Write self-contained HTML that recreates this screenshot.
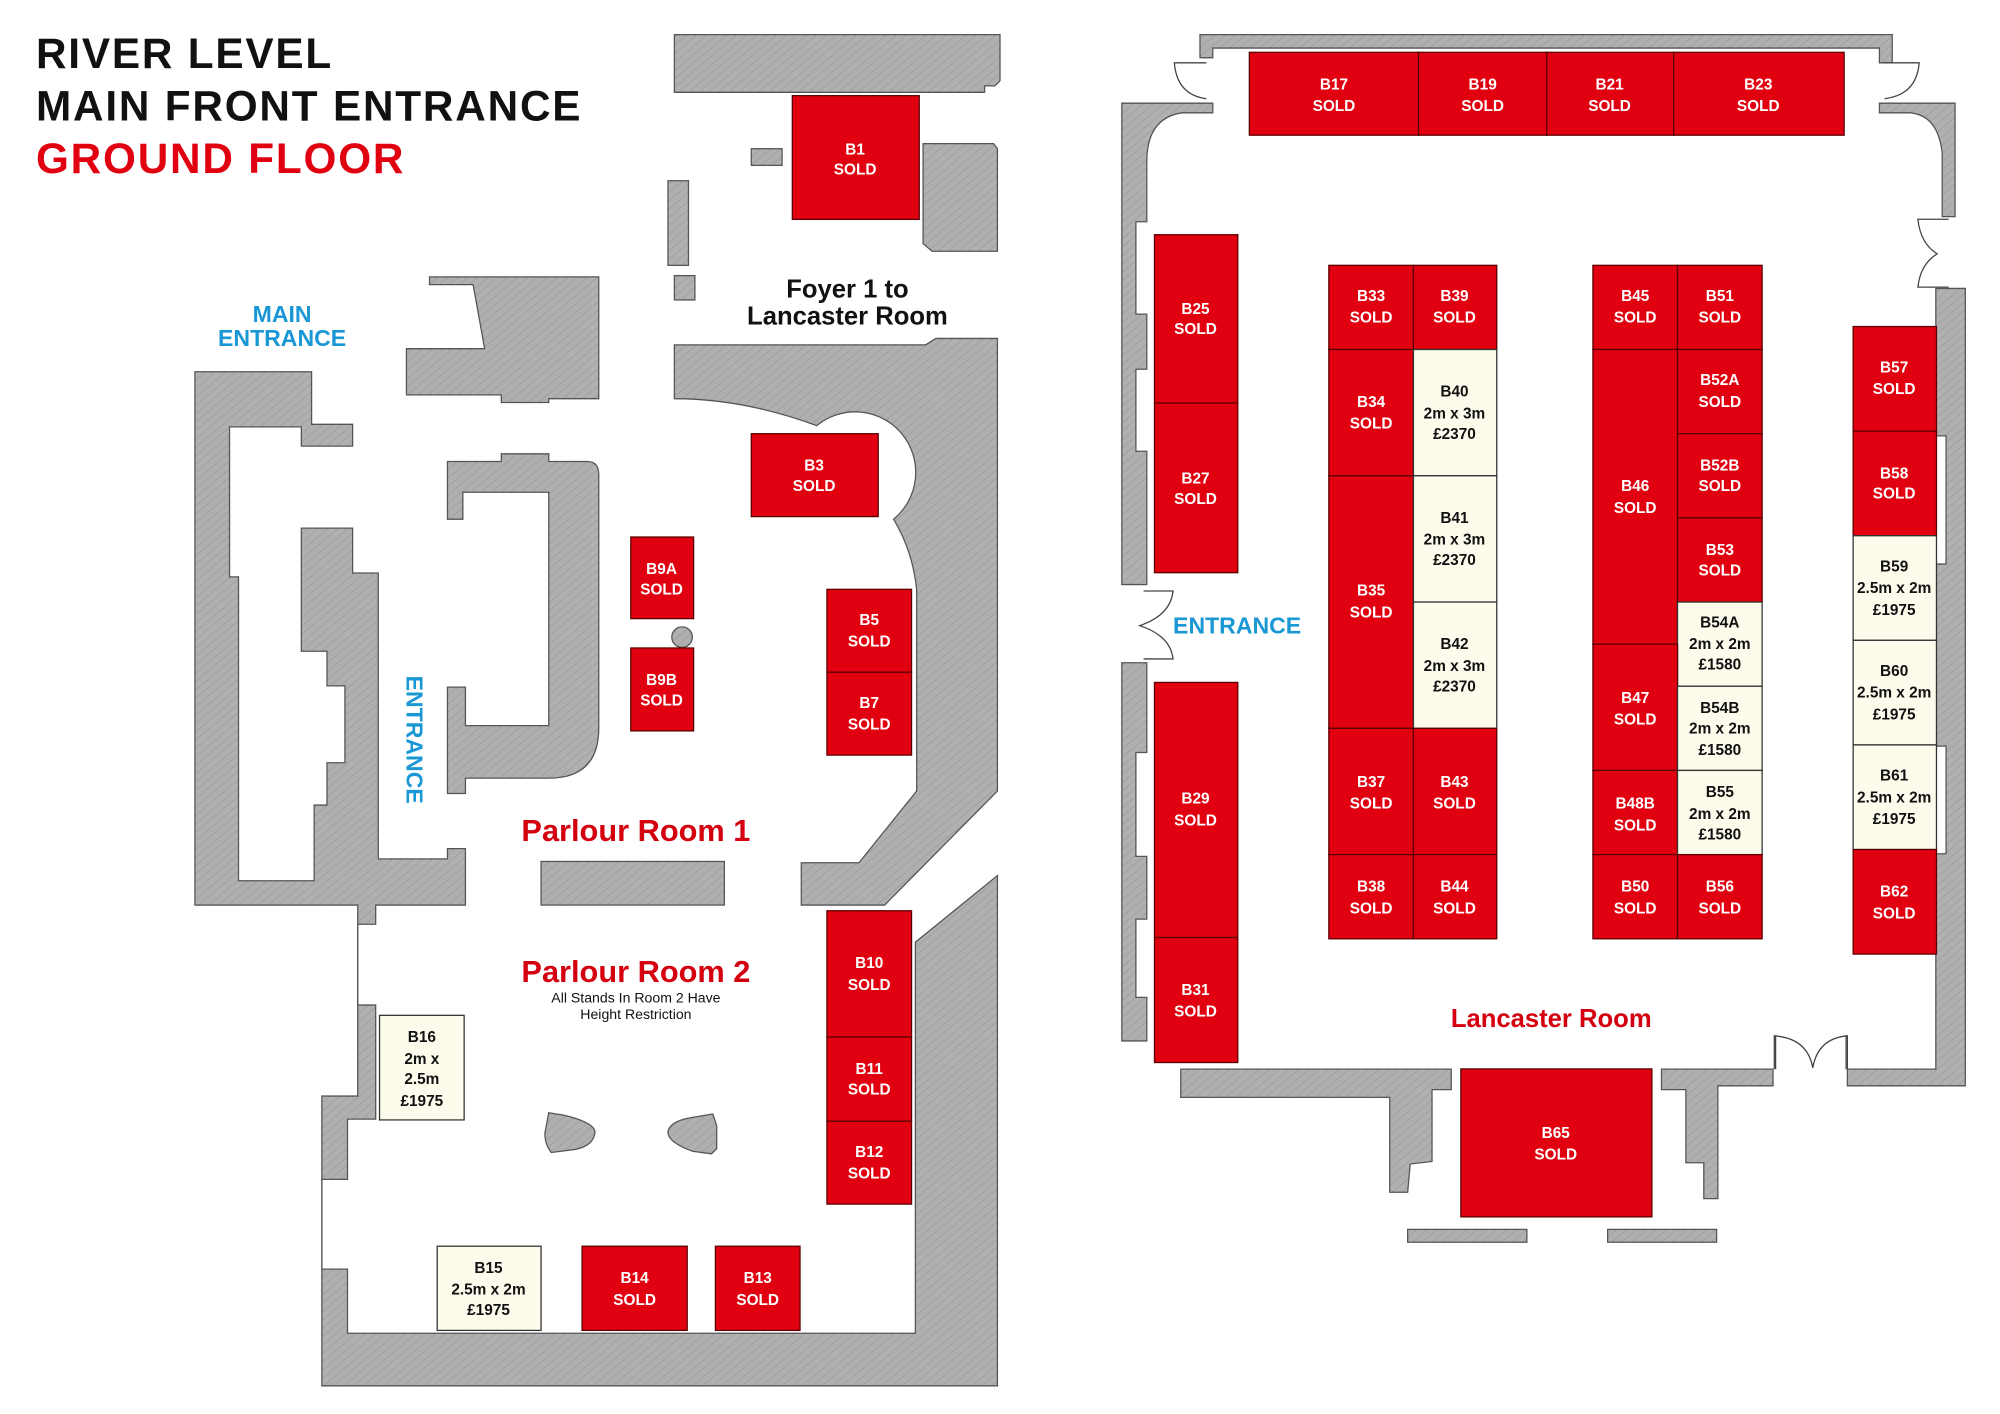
<!DOCTYPE html>
<html><head><meta charset="utf-8"><style>
html,body{margin:0;padding:0;background:#fff;}
svg{display:block;}
.g{fill:url(#hatch);stroke:#555;stroke-width:1;}
.r{fill:#e10010;stroke:#5a0000;stroke-width:1;}
.c{fill:#fdfbec;stroke:#333;stroke-width:1;}
.w{fill:#fff;font-family:"Liberation Sans",sans-serif;font-weight:bold;font-size:12px;text-anchor:middle;}
.k{fill:#111;font-family:"Liberation Sans",sans-serif;font-weight:bold;font-size:12px;text-anchor:middle;}
.d{fill:none;stroke:#444;stroke-width:1;}
.t{font-family:"Liberation Sans",sans-serif;font-weight:bold;}
</style></head><body>
<svg width="2000" height="1414" viewBox="0 0 1560 1103" xmlns="http://www.w3.org/2000/svg">
<defs>
<pattern id="hatch" patternUnits="userSpaceOnUse" width="5" height="5" patternTransform="rotate(50)">
<rect width="5" height="5" fill="#b0b0b0"/>
<line x1="0" y1="0" x2="0" y2="5" stroke="#9c9c9c" stroke-width="1.2"/>
</pattern>
</defs>

<!-- Titles -->
<g class="t" font-size="33" letter-spacing="1.4">
<text x="28" y="53" fill="#111">RIVER LEVEL</text>
<text x="28" y="94" fill="#111">MAIN FRONT ENTRANCE</text>
<text x="28" y="135" fill="#e10010">GROUND FLOOR</text>
</g>

<!-- LEFT BUILDING -->
<path class="g" d="M526,27 L780,27 L780,63 L776,67 L768,67 L768,72 L526,72 Z"/>
<rect class="g" x="586" y="116" width="24" height="13"/>
<path class="g" d="M720,112 L775,112 L778,116 L778,196 L727,196 L720,190 Z"/>
<rect class="g" x="521" y="141" width="16" height="66"/>
<rect class="g" x="526" y="215" width="16" height="19"/>
<path class="g" d="M335,216 L467,216 L467,311 L428,311 L428,314 L391,314 L391,308 L317,308 L317,272 L378,272 L369,222 L335,222 Z"/>
<path class="g" d="M152,290 L243,290 L243,331 L275,331 L275,348 L235,348 L235,333 L179,333 L179,450 L186,450 L186,687 L245,687 L245,628 L255,628 L255,595 L269,595 L269,535 L255,535 L255,508 L235,508 L235,412 L275,412 L275,447 L295,447 L295,670 L349,670 L349,662 L363,662 L363,706 L293,706 L293,721 L279,721 L279,706 L152,706 Z"/>
<path class="g" d="M349,360 L391,360 L391,354 L428,354 L428,360 L458,360 Q467,360 467,370 L467,568 Q467,607 428,607 L363,607 L363,619 L349,619 L349,536 L363,536 L363,566 L428,566 L428,384 L361,384 L361,405 L349,405 Z"/>
<path class="g" d="M526,269 L722,269 L730,264 L778,264 L778,617 L690,706 L625,706 L625,673 L670,673 L715,617 L715,460 Q712,430 697,405 A44,44 0 1 0 637,332 Q580,311 526,311 Z"/>
<rect class="g" x="422" y="672" width="143" height="34"/>
<circle class="g" cx="532" cy="497" r="8"/>
<path class="g" d="M778,683 L778,1081 L251,1081 L251,990 L271,990 L271,1040 L714,1040 L714,735 Z"/>
<path class="g" d="M279,784 L293,784 L293,873 L271,873 L271,920 L251,920 L251,855 L279,855 Z"/>
<line class="d" x1="279" y1="721" x2="279" y2="784"/>
<line class="d" x1="251" y1="920" x2="251" y2="990"/>
<path class="g" d="M428,868 L440,870 Q465,876 464,884 Q462,895 446,897 L430,899 Q425,893 425,884 Z"/>
<path class="g" d="M556,869 L559,878 L559,896 L555,900 L540,898 Q521,891 521,883 Q522,875 538,872 Z"/>

<text class="t" x="220" y="251" font-size="18" fill="#1a98d5" text-anchor="middle">MAIN</text>
<text class="t" x="220" y="270" font-size="18" fill="#1a98d5" text-anchor="middle">ENTRANCE</text>
<text class="t" transform="translate(317,577) rotate(90)" font-size="18" fill="#1a98d5" text-anchor="middle">ENTRANCE</text>
<text class="t" x="661" y="232" font-size="20" fill="#111" text-anchor="middle">Foyer 1 to</text>
<text class="t" x="661" y="253" font-size="20" fill="#111" text-anchor="middle">Lancaster Room</text>
<text class="t" x="496" y="656" font-size="24" fill="#d4000f" text-anchor="middle">Parlour Room 1</text>
<text class="t" x="496" y="766" font-size="24" fill="#d4000f" text-anchor="middle">Parlour Room 2</text>
<text x="496" y="782" font-family="Liberation Sans, sans-serif" font-size="11" fill="#111" text-anchor="middle">All Stands In Room 2 Have</text>
<text x="496" y="795" font-family="Liberation Sans, sans-serif" font-size="11" fill="#111" text-anchor="middle">Height Restriction</text>

<!-- left stands -->
<g transform="scale(1,0.995)">
<rect class="r" x="618" y="75" width="99" height="97"/><text class="w" x="667" y="121">B1</text><text class="w" x="667" y="137">SOLD</text>
<rect class="r" x="586" y="340" width="99" height="65"/><text class="w" x="635" y="369">B3</text><text class="w" x="635" y="385">SOLD</text>
<rect class="r" x="492" y="421" width="49" height="64"/><text class="w" x="516" y="450">B9A</text><text class="w" x="516" y="466">SOLD</text>
<rect class="r" x="492" y="508" width="49" height="65"/><text class="w" x="516" y="537">B9B</text><text class="w" x="516" y="553">SOLD</text>
<rect class="r" x="645" y="462" width="66" height="65"/><text class="w" x="678" y="490">B5</text><text class="w" x="678" y="507">SOLD</text>
<rect class="r" x="645" y="527" width="66" height="65"/><text class="w" x="678" y="555">B7</text><text class="w" x="678" y="572">SOLD</text>
<rect class="r" x="645" y="714" width="66" height="99"/><text class="w" x="678" y="759">B10</text><text class="w" x="678" y="776">SOLD</text>
<rect class="r" x="645" y="813" width="66" height="66"/><text class="w" x="678" y="842">B11</text><text class="w" x="678" y="858">SOLD</text>
<rect class="r" x="645" y="879" width="66" height="65"/><text class="w" x="678" y="907">B12</text><text class="w" x="678" y="924">SOLD</text>
<rect class="c" x="296" y="796" width="66" height="82"/><text class="k" x="329" y="817">B16</text><text class="k" x="329" y="834">2m x</text><text class="k" x="329" y="850">2.5m</text><text class="k" x="329" y="867">£1975</text>
<rect class="c" x="341" y="977" width="81" height="66"/><text class="k" x="381" y="998">B15</text><text class="k" x="381" y="1015">2.5m x 2m</text><text class="k" x="381" y="1031">£1975</text>
<rect class="r" x="454" y="977" width="82" height="66"/><text class="w" x="495" y="1006">B14</text><text class="w" x="495" y="1023">SOLD</text>
<rect class="r" x="558" y="977" width="66" height="66"/><text class="w" x="591" y="1006">B13</text><text class="w" x="591" y="1023">SOLD</text>
</g>

<!-- RIGHT BUILDING -->
<path class="g" d="M936,27 L1476,27 L1476,49 L1466,49 L1466,37.5 L946,37.5 L946,45 L936,45 Z"/>
<path class="g" d="M875,80.5 L946,80.5 L946,88 L922,88 Q895,92 894.5,125 L894.5,173 L886,173 L886,245 L894.5,245 L894.5,288 L886,288 L886,352 L894.5,352 L894.5,456 L875,456 Z"/>
<path class="g" d="M875,517 L894.5,517 L894.5,587 L886,587 L886,668 L894.5,668 L894.5,717 L886,717 L886,778 L894.5,778 L894.5,812 L875,812 Z"/>
<path class="g" d="M1466,80.5 L1525,80.5 L1525,169 L1515,169 L1515,120 Q1512,90 1490,88 L1466,88 Z"/>
<path class="g" d="M1510,225 L1533,225 L1533,847 L1441,847 L1441,834 L1510,834 L1510,666 L1518,666 L1518,582 L1510,582 L1510,440 L1518,440 L1518,340 L1510,340 Z"/>
<path class="g" d="M921,834 L1132,834 L1132,850 L1117,850 L1117,906 L1100,908 L1098,930 L1084,930 L1084,856 L921,856 Z"/>
<path class="g" d="M1296,834 L1383,834 L1383,847 L1340,847 L1340,935 L1329,935 L1329,907 L1315,907 L1315,850 L1296,850 Z"/>
<rect class="g" x="1098" y="959" width="93" height="10"/>
<rect class="g" x="1254" y="959" width="85" height="10"/>
<!-- doors -->
<path class="d" d="M941,49 L916,49 Q918,74 941,77"/>
<path class="d" d="M1469,49 L1497,49 Q1495,74 1470,77"/>
<path class="d" d="M1520,171 L1496,171 Q1498,190 1511,198 Q1498,206 1496,224 L1520,224"/>
<path class="d" d="M892,461 L915,461 Q913,480 889,488 Q913,496 915,514 L892,514"/>
<path class="d" d="M1384,834 L1384,808 Q1410,810 1414,833 Q1418,810 1441,808 L1441,834"/>
<line class="d" x1="1385" y1="808" x2="1385" y2="834" stroke-width="2"/>
<line class="d" x1="1440" y1="808" x2="1440" y2="834" stroke-width="2"/>

<text class="t" x="915" y="494" font-size="18" fill="#1a98d5">ENTRANCE</text>
<text class="t" x="1210" y="801" font-size="20" fill="#d4000f" text-anchor="middle">Lancaster Room</text>

<!-- right stands -->
<g transform="translate(-4.5,0) scale(1,0.995)">
<rect class="r" x="979" y="41" width="132" height="65"/><text class="w" x="1045" y="70">B17</text><text class="w" x="1045" y="87">SOLD</text>
<rect class="r" x="1111" y="41" width="100" height="65"/><text class="w" x="1161" y="70">B19</text><text class="w" x="1161" y="87">SOLD</text>
<rect class="r" x="1211" y="41" width="99" height="65"/><text class="w" x="1260" y="70">B21</text><text class="w" x="1260" y="87">SOLD</text>
<rect class="r" x="1310" y="41" width="133" height="65"/><text class="w" x="1376" y="70">B23</text><text class="w" x="1376" y="87">SOLD</text>

<rect class="r" x="905" y="184" width="65" height="132"/><text class="w" x="937" y="246">B25</text><text class="w" x="937" y="262">SOLD</text>
<rect class="r" x="905" y="316" width="65" height="133"/><text class="w" x="937" y="379">B27</text><text class="w" x="937" y="395">SOLD</text>
<rect class="r" x="905" y="535" width="65" height="200"/><text class="w" x="937" y="630">B29</text><text class="w" x="937" y="647">SOLD</text>
<rect class="r" x="905" y="735" width="65" height="98"/><text class="w" x="937" y="780">B31</text><text class="w" x="937" y="797">SOLD</text>

<rect class="r" x="1041" y="208" width="66" height="66"/><text class="w" x="1074" y="236">B33</text><text class="w" x="1074" y="253">SOLD</text>
<rect class="r" x="1107" y="208" width="65" height="66"/><text class="w" x="1139" y="236">B39</text><text class="w" x="1139" y="253">SOLD</text>
<rect class="r" x="1041" y="274" width="66" height="99"/><text class="w" x="1074" y="319">B34</text><text class="w" x="1074" y="336">SOLD</text>
<rect class="c" x="1107" y="274" width="65" height="99"/><text class="k" x="1139" y="311">B40</text><text class="k" x="1139" y="328">2m x 3m</text><text class="k" x="1139" y="344">£2370</text>
<rect class="r" x="1041" y="373" width="66" height="198"/><text class="w" x="1074" y="467">B35</text><text class="w" x="1074" y="484">SOLD</text>
<rect class="c" x="1107" y="373" width="65" height="99"/><text class="k" x="1139" y="410">B41</text><text class="k" x="1139" y="427">2m x 3m</text><text class="k" x="1139" y="443">£2370</text>
<rect class="c" x="1107" y="472" width="65" height="99"/><text class="k" x="1139" y="509">B42</text><text class="k" x="1139" y="526">2m x 3m</text><text class="k" x="1139" y="542">£2370</text>
<rect class="r" x="1041" y="571" width="66" height="99"/><text class="w" x="1074" y="617">B37</text><text class="w" x="1074" y="634">SOLD</text>
<rect class="r" x="1107" y="571" width="65" height="99"/><text class="w" x="1139" y="617">B43</text><text class="w" x="1139" y="634">SOLD</text>
<rect class="r" x="1041" y="670" width="66" height="66"/><text class="w" x="1074" y="699">B38</text><text class="w" x="1074" y="716">SOLD</text>
<rect class="r" x="1107" y="670" width="65" height="66"/><text class="w" x="1139" y="699">B44</text><text class="w" x="1139" y="716">SOLD</text>

<rect class="r" x="1247" y="208" width="66" height="66"/><text class="w" x="1280" y="236">B45</text><text class="w" x="1280" y="253">SOLD</text>
<rect class="r" x="1313" y="208" width="66" height="66"/><text class="w" x="1346" y="236">B51</text><text class="w" x="1346" y="253">SOLD</text>
<rect class="r" x="1247" y="274" width="66" height="231"/><text class="w" x="1280" y="385">B46</text><text class="w" x="1280" y="402">SOLD</text>
<rect class="r" x="1313" y="274" width="66" height="66"/><text class="w" x="1346" y="302">B52A</text><text class="w" x="1346" y="319">SOLD</text>
<rect class="r" x="1313" y="340" width="66" height="66"/><text class="w" x="1346" y="369">B52B</text><text class="w" x="1346" y="385">SOLD</text>
<rect class="r" x="1313" y="406" width="66" height="66"/><text class="w" x="1346" y="435">B53</text><text class="w" x="1346" y="451">SOLD</text>
<rect class="c" x="1313" y="472" width="66" height="66"/><text class="k" x="1346" y="492">B54A</text><text class="k" x="1346" y="509">2m x 2m</text><text class="k" x="1346" y="525">£1580</text>
<rect class="r" x="1247" y="505" width="66" height="99"/><text class="w" x="1280" y="551">B47</text><text class="w" x="1280" y="568">SOLD</text>
<rect class="c" x="1313" y="538" width="66" height="66"/><text class="k" x="1346" y="559">B54B</text><text class="k" x="1346" y="575">2m x 2m</text><text class="k" x="1346" y="592">£1580</text>
<rect class="r" x="1247" y="604" width="66" height="66"/><text class="w" x="1280" y="634">B48B</text><text class="w" x="1280" y="651">SOLD</text>
<rect class="c" x="1313" y="604" width="66" height="66"/><text class="k" x="1346" y="625">B55</text><text class="k" x="1346" y="642">2m x 2m</text><text class="k" x="1346" y="658">£1580</text>
<rect class="r" x="1247" y="670" width="66" height="66"/><text class="w" x="1280" y="699">B50</text><text class="w" x="1280" y="716">SOLD</text>
<rect class="r" x="1313" y="670" width="66" height="66"/><text class="w" x="1346" y="699">B56</text><text class="w" x="1346" y="716">SOLD</text>

<rect class="r" x="1450" y="256" width="65" height="82"/><text class="w" x="1482" y="292">B57</text><text class="w" x="1482" y="309">SOLD</text>
<rect class="r" x="1450" y="338" width="65" height="82"/><text class="w" x="1482" y="375">B58</text><text class="w" x="1482" y="391">SOLD</text>
<rect class="c" x="1450" y="420" width="65" height="82"/><text class="k" x="1482" y="448">B59</text><text class="k" x="1482" y="465" font-size="11.5">2.5m x 2m</text><text class="k" x="1482" y="482">£1975</text>
<rect class="c" x="1450" y="502" width="65" height="82"/><text class="k" x="1482" y="530">B60</text><text class="k" x="1482" y="547" font-size="11.5">2.5m x 2m</text><text class="k" x="1482" y="564">£1975</text>
<rect class="c" x="1450" y="584" width="65" height="82"/><text class="k" x="1482" y="612">B61</text><text class="k" x="1482" y="629" font-size="11.5">2.5m x 2m</text><text class="k" x="1482" y="646">£1975</text>
<rect class="r" x="1450" y="666" width="65" height="82"/><text class="w" x="1482" y="703">B62</text><text class="w" x="1482" y="720">SOLD</text>

<rect class="r" x="1144" y="838" width="149" height="116"/><text class="w" x="1218" y="892">B65</text><text class="w" x="1218" y="909">SOLD</text>
</g>
</svg>
</body></html>
